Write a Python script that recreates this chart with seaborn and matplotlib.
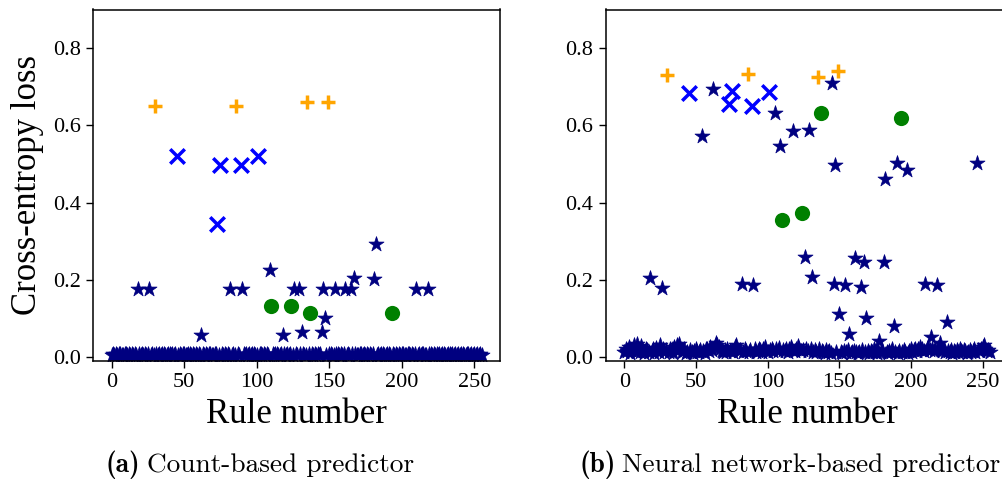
import numpy as np
import pandas as pd
import matplotlib
matplotlib.use("Agg")
import matplotlib.pyplot as plt
import seaborn as sns

# rule groups (marker classes)
plus_rules = [30, 86, 135, 149]
cross_rules = [45, 73, 75, 89, 101]
circle_rules = [110, 124, 137, 193]

# (a) count-based predictor, loss per rule 0..255
count_loss = [
    0.005, 0.008, 0.006, 0.008, 0.005, 0.007, 0.008, 0.006, 0.005, 0.008, 0.007, 0.006, 0.008, 0.005, 0.007, 0.006,
    0.008, 0.006, 0.175, 0.007, 0.005, 0.008, 0.006, 0.007, 0.005, 0.008, 0.175, 0.006, 0.008, 0.005, 0.650, 0.007,
    0.006, 0.008, 0.005, 0.007, 0.008, 0.006, 0.005, 0.008, 0.007, 0.006, 0.008, 0.005, 0.007, 0.520, 0.006, 0.008,
    0.005, 0.007, 0.008, 0.006, 0.005, 0.008, 0.007, 0.006, 0.008, 0.005, 0.007, 0.006, 0.008, 0.005, 0.057, 0.007,
    0.006, 0.008, 0.005, 0.007, 0.008, 0.006, 0.005, 0.008, 0.007, 0.345, 0.006, 0.497, 0.008, 0.005, 0.007, 0.006,
    0.008, 0.005, 0.175, 0.006, 0.008, 0.005, 0.650, 0.007, 0.006, 0.497, 0.175, 0.008, 0.005, 0.007, 0.006, 0.008,
    0.005, 0.007, 0.008, 0.006, 0.005, 0.520, 0.008, 0.007, 0.006, 0.008, 0.005, 0.007, 0.006, 0.225, 0.131, 0.008,
    0.005, 0.007, 0.008, 0.006, 0.005, 0.008, 0.057, 0.007, 0.006, 0.008, 0.005, 0.007, 0.131, 0.006, 0.175, 0.008,
    0.005, 0.175, 0.007, 0.064, 0.008, 0.006, 0.005, 0.660, 0.008, 0.113, 0.007, 0.006, 0.008, 0.005, 0.007, 0.006,
    0.008, 0.064, 0.175, 0.102, 0.005, 0.660, 0.007, 0.008, 0.006, 0.005, 0.175, 0.008, 0.007, 0.006, 0.008, 0.005,
    0.007, 0.175, 0.006, 0.008, 0.005, 0.175, 0.007, 0.205, 0.008, 0.006, 0.005, 0.008, 0.007, 0.006, 0.008, 0.005,
    0.007, 0.006, 0.008, 0.005, 0.007, 0.203, 0.293, 0.006, 0.008, 0.005, 0.007, 0.008, 0.006, 0.005, 0.008, 0.007,
    0.006, 0.113, 0.008, 0.005, 0.007, 0.006, 0.008, 0.005, 0.007, 0.008, 0.006, 0.005, 0.008, 0.007, 0.006, 0.008,
    0.005, 0.007, 0.175, 0.006, 0.008, 0.005, 0.007, 0.008, 0.006, 0.005, 0.175, 0.008, 0.007, 0.006, 0.008, 0.005,
    0.007, 0.006, 0.008, 0.005, 0.007, 0.008, 0.006, 0.005, 0.008, 0.007, 0.006, 0.008, 0.005, 0.007, 0.006, 0.008,
    0.005, 0.007, 0.008, 0.006, 0.005, 0.008, 0.007, 0.006, 0.008, 0.005, 0.007, 0.006, 0.008, 0.005, 0.007, 0.006,
]

# (b) neural network-based predictor, loss per rule 0..255
nn_loss = [
    0.012, 0.020, 0.015, 0.025, 0.010, 0.018, 0.022, 0.030, 0.014, 0.035, 0.020, 0.012, 0.028, 0.016, 0.010, 0.022,
    0.018, 0.012, 0.204, 0.015, 0.020, 0.010, 0.024, 0.016, 0.012, 0.030, 0.180, 0.022, 0.014, 0.018, 0.731, 0.012,
    0.020, 0.015, 0.010, 0.025, 0.018, 0.030, 0.034, 0.022, 0.012, 0.016, 0.020, 0.010, 0.014, 0.685, 0.018, 0.012,
    0.010, 0.016, 0.020, 0.014, 0.012, 0.018, 0.573, 0.015, 0.010, 0.020, 0.022, 0.016, 0.025, 0.018, 0.693, 0.028,
    0.036, 0.030, 0.025, 0.020, 0.015, 0.012, 0.018, 0.014, 0.020, 0.655, 0.016, 0.690, 0.012, 0.025, 0.032, 0.022,
    0.015, 0.018, 0.188, 0.012, 0.020, 0.016, 0.733, 0.014, 0.018, 0.651, 0.186, 0.020, 0.012, 0.016, 0.022, 0.018,
    0.014, 0.020, 0.025, 0.016, 0.012, 0.686, 0.018, 0.022, 0.015, 0.632, 0.020, 0.016, 0.024, 0.547, 0.355, 0.018,
    0.016, 0.022, 0.014, 0.020, 0.025, 0.018, 0.586, 0.016, 0.022, 0.028, 0.020, 0.015, 0.372, 0.018, 0.260, 0.022,
    0.016, 0.589, 0.020, 0.208, 0.014, 0.018, 0.012, 0.725, 0.020, 0.631, 0.016, 0.014, 0.010, 0.018, 0.012, 0.015,
    0.010, 0.709, 0.188, 0.497, 0.012, 0.740, 0.112, 0.014, 0.010, 0.016, 0.186, 0.012, 0.018, 0.060, 0.010, 0.014,
    0.016, 0.256, 0.012, 0.010, 0.014, 0.182, 0.018, 0.247, 0.012, 0.100, 0.015, 0.010, 0.016, 0.012, 0.020, 0.014,
    0.010, 0.016, 0.042, 0.012, 0.018, 0.245, 0.460, 0.014, 0.010, 0.016, 0.012, 0.020, 0.081, 0.014, 0.502, 0.010,
    0.016, 0.620, 0.012, 0.018, 0.014, 0.485, 0.010, 0.016, 0.020, 0.012, 0.018, 0.022, 0.015, 0.020, 0.025, 0.018,
    0.022, 0.016, 0.188, 0.020, 0.025, 0.018, 0.051, 0.022, 0.016, 0.020, 0.187, 0.024, 0.037, 0.018, 0.015, 0.020,
    0.012, 0.091, 0.016, 0.014, 0.018, 0.010, 0.015, 0.012, 0.018, 0.014, 0.020, 0.016, 0.012, 0.018, 0.015, 0.010,
    0.014, 0.018, 0.012, 0.016, 0.020, 0.014, 0.503, 0.018, 0.015, 0.022, 0.025, 0.030, 0.020, 0.016, 0.018, 0.012,
]

caption_tags = ["(a)", "(b)"]
caption_texts = ["Count-based predictor", "Neural network-based predictor"]

sns.set_theme(style="ticks")
plt.rcParams["font.family"] = ["Liberation Serif", "DejaVu Serif"]
for key in ["text.color", "axes.labelcolor", "xtick.color", "ytick.color", "axes.edgecolor"]:
    plt.rcParams[key] = "black"


def group_of(r):
    if r in plus_rules:
        return "plus"
    if r in cross_rules:
        return "cross"
    if r in circle_rules:
        return "circle"
    return "star"


def draw(ax, losses):
    df = pd.DataFrame({"rule": np.arange(len(losses)), "loss": losses})
    df["group"] = df["rule"].apply(group_of)
    sns.scatterplot(data=df[df.group == "star"], x="rule", y="loss", marker="*",
                    color="navy", edgecolor="navy", linewidth=0.5, s=130, ax=ax, zorder=2)
    sns.scatterplot(data=df[df.group == "circle"], x="rule", y="loss", marker="o",
                    color="green", edgecolor="green", linewidth=0, s=120, ax=ax, zorder=3)
    sns.scatterplot(data=df[df.group == "cross"], x="rule", y="loss", marker="x",
                    color="blue", linewidth=2.5, s=110, ax=ax, zorder=3)
    sns.scatterplot(data=df[df.group == "plus"], x="rule", y="loss", marker="+",
                    color="orange", linewidth=2.5, s=110, ax=ax, zorder=3)
    ax.set_xlim(-12.75, 267.75)
    ax.set_ylim(-0.009, 0.9)
    ax.set_xticks([0, 50, 100, 150, 200, 250])
    ax.set_yticks([0.0, 0.2, 0.4, 0.6, 0.8])
    ax.set_yticklabels(["0.0", "0.2", "0.4", "0.6", "0.8"])
    ax.tick_params(labelsize=16, length=5, width=1, color="black", labelcolor="black", pad=4)
    for sp in ax.spines.values():
        sp.set_color("black")
        sp.set_linewidth(1.1)
    ax.set_xlabel("Rule number", fontsize=25, labelpad=4)
    ax.set_ylabel("")


fig = plt.figure(figsize=(10.02, 4.95), dpi=100)
ax1 = fig.add_axes([93 / 1002, 134.5 / 495, 407 / 1002, 351 / 495])
ax2 = fig.add_axes([606 / 1002, 134.5 / 495, 402 / 1002, 351 / 495])

draw(ax1, count_loss)
draw(ax2, nn_loss)
ax1.set_ylabel("Cross-entropy loss", fontsize=25, labelpad=6)

# captions: bold tag + regular text in Computer Modern
for x_left, tag, txt in zip([105, 579], caption_tags, caption_texts):
    t = fig.text(x_left / 1002, 30 / 495, tag, ha="left", va="center",
                 fontsize=19.7, family="cmb10", color="black")
    fig.canvas.draw()
    bb = t.get_window_extent()
    fig.text((bb.x1 + 7) / 1002, 30 / 495, txt, ha="left", va="center",
             fontsize=19.7, family="cmr10", color="black")

fig.savefig("out.png", dpi=100)
